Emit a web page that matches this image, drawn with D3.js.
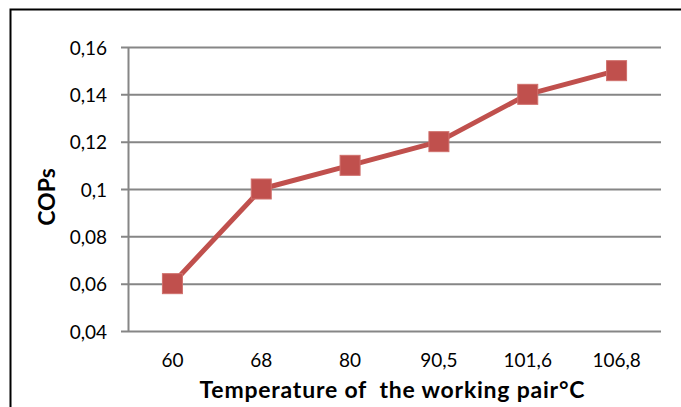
<!DOCTYPE html>
<html>
<head>
<meta charset="utf-8">
<script src="https://cdn.jsdelivr.net/npm/d3@7"></script>
<style>
  body { margin: 0; background: #fff; }
  svg text { font-family: Lato, "Open Sans", sans-serif; fill: #000; white-space: pre; }
</style>
</head>
<body>
<div id="chart"></div>
<script>
var width = 681;
var height = 407;

// temperatures of the working pair (categories) and COPs values
var temps = ["60", "68", "80", "90,5", "101,6", "106,8"];
var cops = [0.06, 0.10, 0.11, 0.12, 0.14, 0.15];
var yTicks = [0.04, 0.06, 0.08, 0.10, 0.12, 0.14, 0.16];

var margin = {left: 128, right: 20, top: 47, bottom: 76};

var svg = d3.select('#chart')
  .append('svg')
    .attr('width', width)
    .attr('height', height);

// outer frame, cropped on the right and bottom like the original
svg.append('rect')
  .attr('x', 10.5).attr('y', 9.5)
  .attr('width', width + 20).attr('height', height + 20)
  .attr('fill', 'none')
  .attr('stroke', '#000')
  .attr('stroke-width', 2);

var x = d3.scaleBand()
  .domain(temps)
  .range([margin.left, width - margin.right]);

var y = d3.scaleLinear()
  .domain([0.04, 0.16])
  .range([height - margin.bottom, margin.top]);

var fmt = function(d) { return d3.format('.2~f')(d).replace('.', ','); };

// y axis with gridlines
var yAxis = svg.append('g')
  .attr('transform', 'translate(' + margin.left + ',0)')
  .call(d3.axisLeft(y)
    .tickValues(yTicks)
    .tickSize(-(width - margin.right - margin.left))
    .tickSizeOuter(0)
    .tickFormat(fmt));
yAxis.select('.domain').attr('stroke', '#868686').attr('stroke-width', 2);
yAxis.selectAll('.tick line')
  .attr('x1', -7)
  .attr('stroke', '#868686')
  .attr('stroke-width', 2);
yAxis.selectAll('.tick text')
  .attr('font-size', 19)
  .attr('x', -21)
  .attr('dy', '0.37em');

// x axis labels
var xAxis = svg.append('g')
  .attr('transform', 'translate(0,' + (height - margin.bottom) + ')')
  .call(d3.axisBottom(x).tickSize(0));
xAxis.select('.domain').remove();
xAxis.selectAll('.tick text')
  .attr('font-size', 19)
  .attr('y', 36)
  .attr('dy', null);

// axis titles
svg.append('text')
  .attr('x', 392)
  .attr('y', 398)
  .attr('text-anchor', 'middle')
  .attr('font-size', 23)
  .attr('font-weight', 'bold')
  .attr('textLength', 385)
  .attr('lengthAdjust', 'spacing')
  .text('Temperature of  the working pair\u00b0C');

svg.append('text')
  .attr('transform', 'translate(55,197) rotate(-90)')
  .attr('text-anchor', 'middle')
  .attr('font-size', 23)
  .attr('font-weight', 'bold')
  .text('COPs');

var pts = temps.map(function(t, i) { return {t: t, v: cops[i]}; });

var line = d3.line()
  .x(function(d) { return x(d.t) + x.bandwidth() / 2; })
  .y(function(d) { return y(d.v); });

svg.append('path')
  .datum(pts)
  .attr('d', line)
  .attr('fill', 'none')
  .attr('stroke', '#C0504D')
  .attr('stroke-width', 5)
  .attr('stroke-linejoin', 'round');

var m = 20;
svg.append('g')
  .selectAll('rect')
  .data(pts)
  .join('rect')
    .attr('x', function(d) { return x(d.t) + x.bandwidth() / 2 - m / 2; })
    .attr('y', function(d) { return y(d.v) - m / 2; })
    .attr('width', m)
    .attr('height', m)
    .attr('fill', '#C0504D')
    .attr('stroke', '#D0706C')
    .attr('stroke-width', 1);
</script>
</body>
</html>
